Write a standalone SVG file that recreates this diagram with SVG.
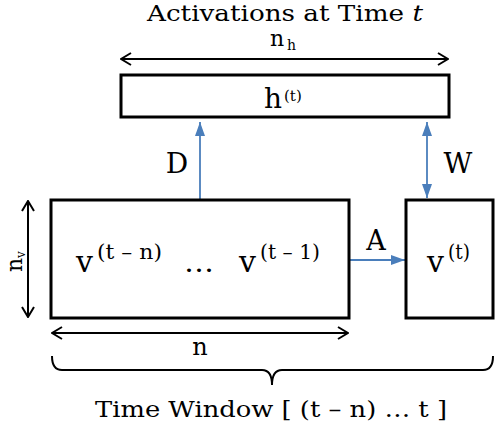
<svg xmlns="http://www.w3.org/2000/svg" width="496" height="428" viewBox="0 0 496 428">
<style>
text{font-family:"DejaVu Serif","Liberation Serif",serif;fill:#000}
.box{fill:#fff;stroke:#000;stroke-width:3}
.dim{fill:none;stroke:#000;stroke-width:2}
.blue{fill:none;stroke:#4a7ebb;stroke-width:1.8}
</style>
<defs>
<marker id="open" viewBox="0 0 12 14" refX="11" refY="7" markerWidth="12" markerHeight="14" markerUnits="userSpaceOnUse" orient="auto-start-reverse">
<path d="M1,1 L11,7 L1,13" fill="none" stroke="#000" stroke-width="2"/>
</marker>
<marker id="tri" viewBox="0 0 14 10" refX="14" refY="5" markerWidth="14" markerHeight="10" markerUnits="userSpaceOnUse" orient="auto-start-reverse">
<path d="M0,0 L14,5 L0,10 Z" fill="#4a7ebb"/>
</marker>
</defs>
<text x="285" y="21" font-size="22" text-anchor="middle" textLength="276" lengthAdjust="spacingAndGlyphs">Activations at Time <tspan font-style="italic">t</tspan></text>
<g id="connectors">
<line class="dim" x1="121" y1="59" x2="448" y2="59" marker-start="url(#open)" marker-end="url(#open)"/>
<line class="dim" x1="28" y1="201" x2="28" y2="317" marker-start="url(#open)" marker-end="url(#open)"/>
<line class="dim" x1="52" y1="333" x2="348" y2="333" marker-start="url(#open)" marker-end="url(#open)"/>
<line class="blue" x1="200" y1="199" x2="200" y2="122" marker-end="url(#tri)"/>
<line class="blue" x1="427" y1="122" x2="427" y2="198" marker-start="url(#tri)" marker-end="url(#tri)"/>
<line class="blue" x1="349" y1="260" x2="405" y2="260" marker-end="url(#tri)"/>
<path class="dim" d="M52,356 Q52,370 62,370 L262,370 Q272,370 272,385 Q272,370 282,370 L483,370 Q493,370 493,356"/>
</g>
<g id="h">
<rect class="box" x="121" y="75" width="328" height="42"/>
<text x="264" y="108" font-size="28">h</text>
<text x="284" y="101" font-size="15">(t)</text>
</g>
<g id="vwin">
<rect class="box" x="51" y="200" width="298" height="118"/>
<text x="76" y="272" font-size="30">v</text>
<text x="97" y="259" font-size="20" textLength="65" lengthAdjust="spacingAndGlyphs">(t – n)</text>
<text x="184" y="272" font-size="26" textLength="30" lengthAdjust="spacingAndGlyphs">…</text>
<text x="239" y="272" font-size="30">v</text>
<text x="260" y="259" font-size="20" textLength="60" lengthAdjust="spacingAndGlyphs">(t – 1)</text>
</g>
<g id="vt">
<rect class="box" x="406" y="200" width="87" height="118"/>
<text x="427" y="272" font-size="30">v</text>
<text x="448" y="259" font-size="20" textLength="22" lengthAdjust="spacingAndGlyphs">(t)</text>
</g>
<text x="270" y="46" font-size="22">n</text>
<text x="287" y="50" font-size="14">h</text>
<g transform="translate(22,272) rotate(-90)">
<text x="0" y="0" font-size="22">n</text>
<text x="14" y="3" font-size="12">v</text>
</g>
<text x="177" y="173" font-size="28" text-anchor="middle">D</text>
<text x="458" y="173" font-size="28" text-anchor="middle">W</text>
<text x="376" y="250" font-size="27" text-anchor="middle">A</text>
<text x="200" y="355" font-size="24" text-anchor="middle">n</text>
<text x="271" y="417" font-size="23" text-anchor="middle" textLength="352" lengthAdjust="spacingAndGlyphs">Time Window [ (t – n) … t ]</text>
</svg>
